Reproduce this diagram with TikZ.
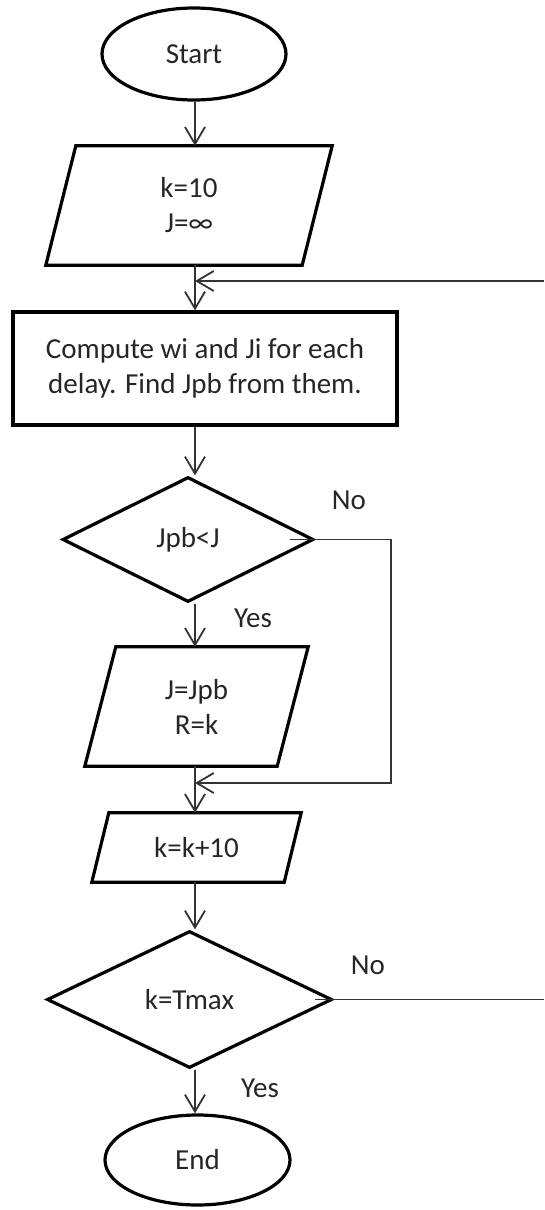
\documentclass[tikz,border=0pt]{standalone}
\usepackage{fontspec}
\setmainfont{Carlito}
\usetikzlibrary{shapes.geometric,arrows.meta}
\begin{document}
\begin{tikzpicture}[x=1pt,y=-1pt,
  every node/.style={font=\fontsize{29}{35}\selectfont, text=black!85, align=center, inner sep=0pt},
  shp/.style={draw=black, line width=3.2pt},
  conn/.style={draw=black!80, line width=1.8pt},
  arr/.style={conn, -{Straight Barb[length=17pt,width=20pt,line width=1.8pt]}}
]
\useasboundingbox (0,0) rectangle (544,1210);
\coordinate (ax) at (195,0);
\coordinate (r1) at (544,281);
\coordinate (c2) at (391,783);
% shapes
\node[shp, ellipse, minimum width=184pt, minimum height=92pt] (start) at (194,54) {Start};
\node[minimum width=226pt, minimum height=119pt] (p1) at (189,205.5) {k=10\\J=∞};
\draw[shp] ([xshift=-30pt]p1.south west) -- (p1.north west) -- ([xshift=30pt]p1.north east) -- (p1.south east) -- cycle;
\node[shp, rectangle, minimum width=384pt, minimum height=113pt] (comp) at (205,368.5) {Compute wi and Ji for each\\delay. Find Jpb from them.};
\node[shp, diamond, minimum width=251pt, minimum height=125pt] (d1) at (188,539.5) {Jpb<J};
\node[minimum width=161pt, minimum height=119pt] (p2) at (196.5,706.5) {J=Jpb\\R=k};
\draw[shp] ([xshift=-31pt]p2.south west) -- (p2.north west) -- ([xshift=31pt]p2.north east) -- (p2.south east) -- cycle;
\node[minimum width=175pt, minimum height=69pt] (p3) at (196.5,847.5) {k=k+10};
\draw[shp] ([xshift=-17pt]p3.south west) -- (p3.north west) -- ([xshift=17pt]p3.north east) -- (p3.south east) -- cycle;
\node[shp, diamond, minimum width=285pt, minimum height=137pt] (d2) at (189.5,999.5) {k=Tmax};
\node[shp, ellipse, minimum width=185pt, minimum height=90pt] (end) at (197.5,1160) {End};
% labels
\node (no1) at (349,500) {No};
\node (yes1) at (253,618) {Yes};
\node (no2) at (368,965) {No};
\node (yes2) at (260,1088) {Yes};
% connectors
\draw[arr] (start.south -| ax) -- (p1.north -| ax);
\draw[arr] (p1.south -| ax) -- (comp.north -| ax);
\draw[arr] (comp.south -| ax) -- (d1.north -| ax);
\draw[arr] (d1.south -| ax) -- (p2.north -| ax);
\draw[arr] (p2.south -| ax) -- (p3.north -| ax);
\draw[arr] (p3.south -| ax) -- (d2.north -| ax);
\draw[arr] (d2.south -| ax) -- (end.north -| ax);
\draw[arr] (r1) -- (r1 -| ax);
\draw[arr] ([xshift=-25pt]d1.east) -| (c2) -- (c2 -| ax);
\draw[conn] ([xshift=-19pt]d2.east) -- (d2.east -| r1);
\end{tikzpicture}
\end{document}
